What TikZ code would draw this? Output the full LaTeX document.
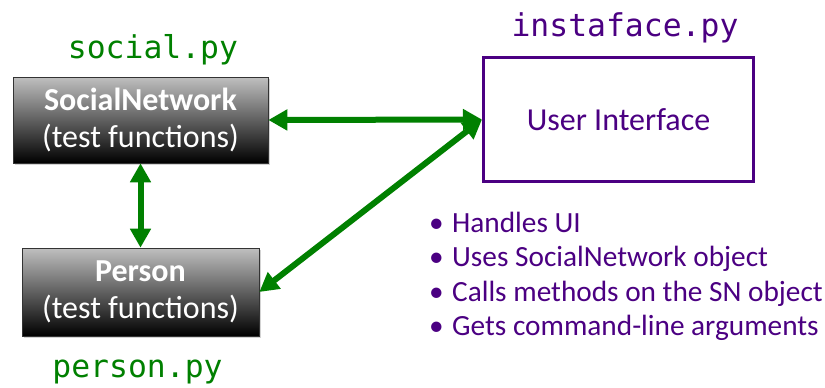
\documentclass[tikz,border=0pt]{standalone}
\usepackage{fontspec}
\setmainfont{Carlito}
\setmonofont{DejaVu Sans Mono}
\usetikzlibrary{arrows.meta,shadows}
\definecolor{grn}{RGB}{0,128,0}
\definecolor{purp}{RGB}{75,0,130}
\begin{document}
\begin{tikzpicture}[x=1pt,y=-1pt,
  classbox/.style={draw=black!80, line width=0.6pt, top color=gray!50, bottom color=black,
    text=white, align=center, inner sep=0pt, font=\fontsize{32}{37}\selectfont,
    drop shadow={shadow xshift=1.5pt, shadow yshift=-1.5pt, opacity=0.35}},
  fname/.style={font=\ttfamily\fontsize{31.4}{36}\selectfont, anchor=base, inner sep=0pt},
  bullet/.style={anchor=base west, inner sep=0pt, text=purp, font=\fontsize{29.3}{33}\selectfont},
  link/.style={draw=grn, line width=6pt, {Triangle[width=20pt,length=19pt]}-{Triangle[width=20pt,length=19pt]}}]
\useasboundingbox (0,0) rectangle (825,388);
\node[classbox, minimum width=255pt, minimum height=86pt] (sn) at (140.5,120) {\textbf{SocialNetwork}\\(test functions)};
\node[classbox, minimum width=237pt, minimum height=88pt] (person) at (140.5,292) {\textbf{Person}\\(test functions)};
\node[draw=purp, line width=3pt, minimum width=270pt, minimum height=124pt, inner sep=0pt,
  text=purp, font=\fontsize{32}{36}\selectfont] (ui) at (618.5,119.5) {User Interface};
\node[fname, text=grn] (socialpy) at (153,58) {social.py};
\node[fname, text=grn] (personpy) at (137.5,377) {person.py};
\node[fname, text=purp] (instapy) at (625,36) {instaface.py};
\node[bullet] (b1) at (429,232) {\makebox[23pt][l]{\textbullet}Handles UI};
\node[bullet] (b2) at (429,266.5) {\makebox[23pt][l]{\textbullet}Uses SocialNetwork object};
\node[bullet] (b3) at (429,301) {\makebox[23pt][l]{\textbullet}Calls methods on the SN object};
\node[bullet] (b4) at (429,335) {\makebox[23pt][l]{\textbullet}Gets command-line arguments};
\draw[link] (sn.east) -- (ui.west);
\draw[link] (sn.south) -- (person.north);
\draw[link] (ui.west) -- (person.east);
\end{tikzpicture}
\end{document}
